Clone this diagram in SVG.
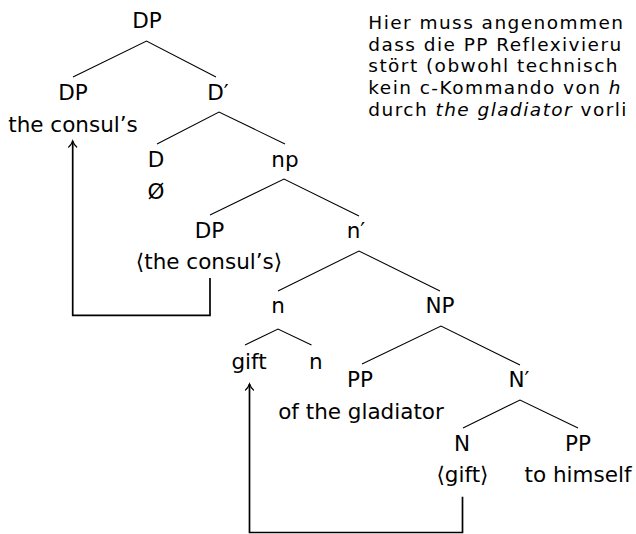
<svg xmlns="http://www.w3.org/2000/svg" width="636" height="534" viewBox="0 0 636 534">
<defs>
<style>
text{font-family:"DejaVu Sans","Noto Sans",sans-serif;font-size:21.5px;fill:#000}
.n{text-anchor:middle}
.e{font-style:italic}
.p{font-size:18.5px;letter-spacing:1.45px}
.t{stroke:#000;stroke-width:1.05;fill:none}
.a{stroke:#000;stroke-width:1.7;fill:none}
</style>
<marker id="tip" markerUnits="userSpaceOnUse" markerWidth="14" markerHeight="14" viewBox="-8 -7 10 14" refX="0" refY="0" orient="auto">
<path d="M-6,-4 C-4,-1.8 -1.5,-0.5 0,0 C-1.5,0.5 -4,1.8 -6,4" stroke="#000" stroke-width="1.2" fill="none" stroke-linecap="round"/>
</marker>
</defs>
<rect width="636" height="534" fill="#fff"/>
<g id="connectors">
<path class="t" d="M73,77 L146.5,41 L216,77"/>
<path class="t" d="M157,144 L219,112 L285,144"/>
<path class="t" d="M210,215 L284,179 L359,216"/>
<path class="t" d="M278,291 L359,251 L440,291"/>
<path class="t" d="M245,345 L278,329 L311.5,345"/>
<path class="t" d="M362,364 L441,326 L520,365"/>
<path class="t" d="M463,428 L520,400 L578,428"/>
<path class="a" d="M210,278 V315.3 H72.7 V141" marker-end="url(#tip)"/>
<path class="a" d="M462.5,496.7 V532.5 H249.5 V384" marker-end="url(#tip)"/>
</g>
<g id="n-dp-root"><text class="n" x="147" y="28">DP</text></g>
<g id="n-dp-spec"><text class="n" x="73" y="100">DP</text><text class="n" x="73" y="131.5">the consul’s</text></g>
<g id="n-dbar"><text class="n" x="218" y="100">D′</text></g>
<g id="n-d"><text class="n" x="156" y="166.7">D</text><text class="n" x="156" y="199">Ø</text></g>
<g id="n-np"><text class="n" x="285" y="167">np</text></g>
<g id="n-dp-trace"><text class="n" x="209.5" y="238">DP</text><text class="n" x="209" y="269">⟨the consul’s⟩</text></g>
<g id="n-nbar"><text class="n" x="356" y="238">n′</text></g>
<g id="n-n"><text class="n" x="278" y="313">n</text></g>
<g id="n-NP"><text class="n" x="440" y="313">NP</text></g>
<g id="n-gift"><text class="n" x="249" y="369">gift</text></g>
<g id="n-n2"><text class="n" x="315.7" y="369">n</text></g>
<g id="n-pp1"><text class="n" x="360" y="387">PP</text><text class="n" x="361" y="419">of the gladiator</text></g>
<g id="n-Nbar"><text class="n" x="519" y="387">N′</text></g>
<g id="n-N"><text class="n" x="462" y="451">N</text><text class="n" x="462.5" y="482">⟨gift⟩</text></g>
<g id="n-pp2"><text class="n" x="578" y="451">PP</text><text class="n" x="578" y="482">to himself</text></g>
<g id="note">
<text class="p" x="368.3" y="29.3">Hier muss angenommen</text>
<text class="p" x="368.3" y="50.8">dass die PP Reflexivieru</text>
<text class="p" x="368.3" y="72.4">stört (obwohl technisch</text>
<text class="p" x="368.3" y="94">kein c-Kommando von <tspan class="e">h</tspan></text>
<text class="p" x="368.3" y="115.6">durch <tspan class="e">the gladiator</tspan> vorli</text>
</g>
</svg>
